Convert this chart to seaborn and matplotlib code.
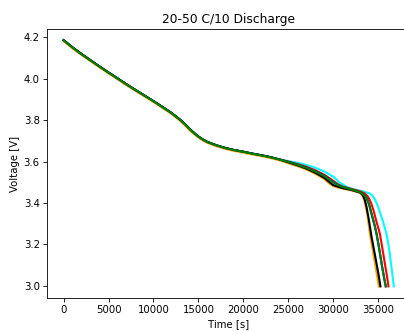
import matplotlib
matplotlib.use("Agg")
import matplotlib.pyplot as plt
import seaborn as sns
import pandas as pd

# shared early part of the discharge (all cells nearly identical)
t_early = [0, 1000, 2000, 3000, 4000, 5000, 6000, 7000, 8000, 9000, 10000,
           11000, 12000, 13000, 13500, 14000, 14500, 15000, 15500, 16000,
           17000, 18000, 19000, 20000, 21000, 22000, 23000, 24000]
v_early = [4.185, 4.150, 4.118, 4.088, 4.058, 4.029, 4.001, 3.972, 3.945, 3.918,
           3.891, 3.863, 3.834, 3.800, 3.780, 3.758, 3.738, 3.720, 3.706, 3.694,
           3.678, 3.665, 3.655, 3.647, 3.638, 3.630, 3.621, 3.610]
v_early_orange = [4.181, 4.146, 4.114, 4.084, 4.054, 4.025, 3.997, 3.968, 3.941, 3.914,
                  3.887, 3.859, 3.830, 3.795, 3.774, 3.752, 3.733, 3.716, 3.702, 3.690,
                  3.674, 3.661, 3.651, 3.643, 3.634, 3.626, 3.617, 3.606]

# tails per cell
t_cyan = [25000, 26000, 27000, 28000, 29000, 30000, 30700, 31500, 32000, 33000,
          33500, 34000, 34240, 34600, 35000, 35300, 35600, 35900, 36200, 36460, 36600, 36720]
v_cyan = [3.602, 3.594, 3.584, 3.570, 3.552, 3.527, 3.499, 3.477, 3.469, 3.459,
          3.453, 3.447, 3.440, 3.420, 3.380, 3.340, 3.300, 3.254, 3.180, 3.093, 3.045, 2.998]

t_red = [25000, 26000, 27000, 28000, 29000, 30000, 30500, 31000, 32000, 33000,
         33500, 33870, 34200, 34500, 34800, 35170, 35500, 35800, 36000, 36130]
v_red = [3.600, 3.588, 3.575, 3.558, 3.536, 3.507, 3.491, 3.480, 3.468, 3.456,
         3.446, 3.430, 3.400, 3.360, 3.310, 3.254, 3.170, 3.090, 3.040, 2.998]

t_blue = [25000, 26000, 27000, 28000, 29000, 30000, 30500, 31000, 32000, 33000,
          33400, 33700, 34000, 34300, 34550, 34800, 35100, 35400, 35650, 35830]
v_blue = [3.598, 3.585, 3.571, 3.553, 3.531, 3.501, 3.488, 3.478, 3.466, 3.452,
          3.440, 3.425, 3.390, 3.340, 3.300, 3.254, 3.180, 3.100, 3.040, 2.998]

t_green = [25000, 26000, 27000, 28000, 29000, 30000, 30500, 31000, 32000, 33000,
           33400, 33700, 34000, 34300, 34550, 34800, 35100, 35400, 35650, 35830]
v_green = [3.598, 3.585, 3.570, 3.552, 3.530, 3.500, 3.487, 3.478, 3.466, 3.452,
           3.440, 3.425, 3.390, 3.340, 3.300, 3.254, 3.180, 3.100, 3.040, 2.998]

t_black = [25000, 26000, 27000, 28000, 29000, 29500, 30000, 31000, 32000, 33000,
           33300, 33500, 33700, 33950, 34240, 34500, 34800, 35050, 35240]
v_black = [3.596, 3.582, 3.566, 3.546, 3.521, 3.503, 3.486, 3.472, 3.463, 3.450,
           3.437, 3.415, 3.380, 3.320, 3.240, 3.180, 3.110, 3.050, 2.998]

t_orange = [25000, 26000, 27000, 28000, 29000, 29500, 30000, 30500, 31000, 32000, 33000,
            33300, 33500, 33800, 34070, 34330, 34630, 34830, 35060]
v_orange = [3.592, 3.578, 3.562, 3.541, 3.516, 3.496, 3.481, 3.475, 3.470, 3.461, 3.449,
            3.432, 3.405, 3.340, 3.250, 3.185, 3.112, 3.058, 2.998]

series = [
    ("cyan", t_cyan, v_cyan, v_early),
    ("red", t_red, v_red, v_early),
    ("blue", t_blue, v_blue, v_early),
    ("orange", t_orange, v_orange, v_early_orange),
    ("black", t_black, v_black, v_early),
    ("green", t_green, v_green, v_early),
]

frames = []
for name, tt, vv, ve in series:
    frames.append(pd.DataFrame({"cell": name, "t": t_early + tt, "v": ve + vv}))
df = pd.concat(frames, ignore_index=True)

W, H = 404, 331
fig = plt.figure(figsize=(W / 100, H / 100), dpi=100)
ax = fig.add_axes([47 / W, (H - 298) / H, (411 - 47) / W, (298 - 29) / H])

palette = {n: n for n, *_ in series}
sns.lineplot(data=df, x="t", y="v", hue="cell", palette=palette, sort=False,
             estimator=None, legend=False, ax=ax, linewidth=1.5)

ax.set_xlim(-1840, 38640)
ax.set_ylim(2.942, 4.239)
ax.set_xticks([0, 5000, 10000, 15000, 20000, 25000, 30000, 35000])
ax.set_yticks([3.0, 3.2, 3.4, 3.6, 3.8, 4.0, 4.2])
fs = 7.3
ax.set_xlabel("Time [s]", fontsize=fs, labelpad=2.9)
ax.set_ylabel("Voltage [V]", fontsize=fs, labelpad=2.9)
ax.tick_params(labelsize=fs, length=2.6, pad=2.6, width=0.6)
for s in ax.spines.values():
    s.set_linewidth(0.6)
ax.set_title("20-50 C/10 Discharge", fontsize=8.8, pad=4.4)

fig.savefig("out.png", dpi=100)
